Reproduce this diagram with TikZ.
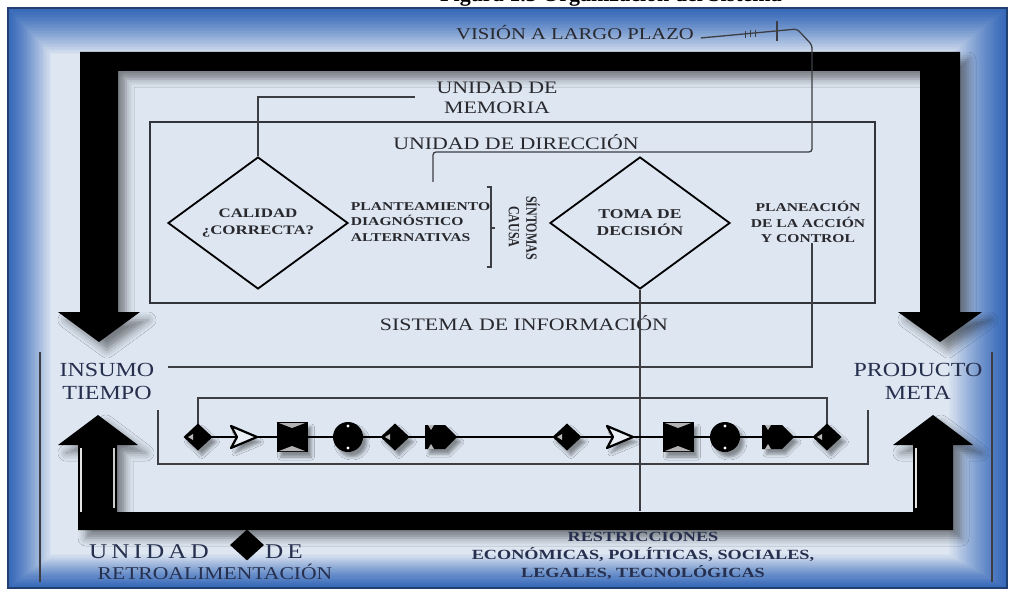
\documentclass[tikz,border=0pt]{standalone}
\usepackage{fontspec}
\setmainfont{Liberation Serif}
\usetikzlibrary{shapes.geometric,shadows.blur}
\definecolor{bgedge}{RGB}{55,105,185}
\definecolor{bglight}{RGB}{221,230,241}
\definecolor{ink}{RGB}{40,40,45}
\definecolor{navy}{RGB}{38,48,78}
\definecolor{linec}{RGB}{60,62,68}
\definecolor{boxc}{RGB}{50,52,58}
\begin{document}
\begin{tikzpicture}[x=1pt,y=-1pt,
  lab/.style={inner sep=0.5pt, text=ink, font=\fontsize{17.5}{20}\selectfont, xscale=1.25, align=center},
  blab/.style={inner sep=0.5pt, text=ink, font=\bfseries\fontsize{12}{15.5}\selectfont, xscale=1.3, align=center},
  nlab/.style={inner sep=0.5pt, text=navy, font=\fontsize{20}{23}\selectfont, xscale=1.2, align=center},
  conn/.style={draw=linec, line width=1.3pt},
  bevel/.style={draw=gray!45, line width=2.5pt},
  bigarrow/.style={fill=black, blur shadow={shadow xshift=8pt, shadow yshift=-8pt, shadow blur radius=8pt, shadow opacity=45}},
  sym/.style={fill=black, blur shadow={shadow xshift=4pt, shadow yshift=-5pt, shadow blur radius=3pt, shadow opacity=40}},
  dmd/.style={diamond, draw=black, line width=1.8pt, minimum width=180pt, minimum height=132pt, inner sep=0pt},
  dia/.pic={\path[sym] (-14.5,0) -- (0,-13.5) -- (14.5,0) -- (0,13.5) -- cycle;
     \fill[gray!55] (-10,0) -- (-5,-3) -- (-5,3) -- cycle;},
  tri/.pic={\path[sym, fill=bglight!60!white, draw=black, line width=2.2pt, line join=round] (-13,-11) -- (13,0) -- (-13,11) -- (-7,0) -- cycle;},
  hour/.pic={\path[sym] (-15.5,-15) rectangle (15.5,15);
     \fill[gray!60] (-13,-14) -- (13,-14) -- (0,-9) -- cycle;
     \fill[gray!60] (-13,14) -- (13,14) -- (0,9) -- cycle;},
  circ/.pic={\path[sym] (0,0) circle (15pt);
     \fill[white] (0,-11) circle (1.6pt); \fill[white] (0,11) circle (1.6pt);},
  pent/.pic={\path[sym] (-16,-12) -- (4,-12) -- (16,0) -- (4,12) -- (-16,12) -- cycle;
     \fill[gray!55] (-13,-12) -- (-7,-12) -- (-10,-7) -- cycle;
     \fill[gray!55] (-13,12) -- (-7,12) -- (-10,7) -- cycle;},
]
\useasboundingbox (0,0) rectangle (1015,591);
\fill[white] (0,0) rectangle (1015,591);
% caption (cut off at the top, as in the reference)
\begin{scope}
\clip (0,0) rectangle (1015,8);
\node[anchor=base west, inner sep=0pt, font=\bfseries\fontsize{22}{22}\selectfont] (cap) at (440,1.5) {Figura 1.3 Organización del Sistema};
\end{scope}
% background
\foreach \i in {0,...,32}{
  \pgfmathsetmacro\p{100*(\i/32)^1.25}
  \fill[bglight!\p!bgedge] ({8+1.35*\i},{8+1.45*\i}) rectangle ({1007-1.8*\i},{588-1.05*\i});
}
\draw[bgedge!60!black, line width=1.5pt] (8,8) rectangle (1007,588);

% big black arrows
\path[bigarrow] (80,312) -- (80,52) -- (960,52) -- (960,312) -- (982,312) -- (940,342) -- (898,312) -- (920,312) -- (920,71) -- (118,71) -- (118,312) -- (140,312) -- (99,342) -- (58,312) -- cycle;
\path[bigarrow] (78,445) -- (58,445) -- (98,415) -- (138,445) -- (117,445) -- (117,512) -- (913,512) -- (913,445) -- (893,445) -- (933,415) -- (973,445) -- (953,445) -- (953,530) -- (78,530) -- cycle;
% bevel highlights
\draw[bevel, draw=gray!20] (81,448) -- (81,512);
\draw[bevel, draw=gray!40] (114,448) -- (114,508);
\draw[bevel, draw=gray!20] (916,448) -- (916,508);

% thin side lines
\draw[conn, line width=1.1pt] (40,352) -- (40,582);
\draw[conn, line width=1.1pt] (992,352) -- (992,582);

% direction box
\draw[draw=boxc, line width=2pt] (150,122) rectangle (875,303);

% nodes
\node[lab, font=\fontsize{16.5}{20}\selectfont] (vis) at (575,33) {VISIÓN A LARGO PLAZO};
\node[lab] (mem) at (497,98) {UNIDAD DE\\MEMORIA};
\node[lab] (dir) at (516,142) {UNIDAD DE DIRECCIÓN};
\node[lab] (sis) at (524,323) {SISTEMA DE INFORMACIÓN};
\node[dmd, label={[blab, font=\bfseries\fontsize{13}{16.5}\selectfont]center:{CALIDAD\\¿CORRECTA?}}] (cal) at (258,223) {};
\node[dmd, label={[blab, font=\bfseries\fontsize{13.5}{17}\selectfont]center:{TOMA DE\\DECISIÓN}}] (toma) at (640,223) {};
\node[blab, anchor=west, align=left] (plan) at (350,222) {PLANTEAMIENTO\\DIAGNÓSTICO\\ALTERNATIVAS};
\node[blab, rotate=-90] (sint) at (533,228) {SÍNTOMAS};
\node[blab, rotate=-90] (causa) at (514,227) {CAUSA};
\node[blab] (plane) at (808,222) {PLANEACIÓN\\DE LA ACCIÓN\\Y CONTROL};
\node[nlab] (ins) at (107,381) {INSUMO\\TIEMPO};
\node[nlab] (prod) at (918,381) {PRODUCTO\\META};
\node[diamond, fill=black, minimum width=34pt, minimum height=31pt, inner sep=0pt] (fb) at (247,545) {};
\node[nlab, font=\fontsize{21}{23}\selectfont\addfontfeature{LetterSpace=16}] (un) at (149,552) {UNIDAD};
\node[nlab, font=\fontsize{21}{23}\selectfont\addfontfeature{LetterSpace=16}] (de) at (284,552) {DE};
\node[nlab, font=\fontsize{18}{21}\selectfont] (retro) at (215,572) {RETROALIMENTACIÓN};
\node[blab, text=navy, font=\bfseries\fontsize{14}{18}\selectfont] (res) at (643,556) {RESTRICCIONES\\ECONÓMICAS, POLÍTICAS, SOCIALES,\\LEGALES, TECNOLÓGICAS};

% connectors
\coordinate (v1) at (797,29);
\coordinate (v2) at (812,45);
\coordinate (dtop) at (812,152);
\coordinate (dstub) at (433,182);
\draw[conn, rounded corners=3pt] ([xshift=6pt,yshift=-5pt]vis.east) -- (v1) -- (v2) -- (dtop) -- (dstub |- dtop) -- (dstub);
\draw[linec, line width=1pt] (745,30.8) -- (745,37.8) (750,30.3) -- (750,37.3) (755,29.8) -- (755,36.8);
\draw[linec, line width=1.2pt] (777,21) -- (777,41);
\coordinate (memL) at (415,97);
\draw[conn] (memL) -- (cal.north |- memL) -- (cal.north);
\draw[conn, line width=1.1pt] (487,187) -- (491,187) -- (491,267) -- (487,267);
\draw[conn, line width=1.1pt] (491,228) -- (495,228);
\coordinate (infoL) at (168,367);
\draw[conn] (plane.south -| dtop) -- (dtop |- infoL) -- (infoL);
\draw[conn] (toma.south) -- (toma.south |- 0,511);

% chain
\foreach \n/\x in {1/198,2/244,3/292,4/348,5/395,6/441,7/567,8/620,9/678,10/725,11/778,12/827}
  \coordinate (s\n) at (\x,437);
\draw[conn] (158,410) -- (158,464) -- (868,464) -- (868,410);
\draw[conn] (s1) -- (s1 |- 0,398) -- (s12 |- 0,398) -- (s12);
\draw[black, line width=1.8pt] (s1) -- (s12);
\pic at (s1) {dia};
\pic at (s2) {tri};
\pic at (s3) {hour};
\pic at (s4) {circ};
\pic at (s5) {dia};
\pic at (s6) {pent};
\pic at (s7) {dia};
\pic at (s8) {tri};
\pic at (s9) {hour};
\pic at (s10) {circ};
\pic at (s11) {pent};
\pic at (s12) {dia};
\end{tikzpicture}
\end{document}
